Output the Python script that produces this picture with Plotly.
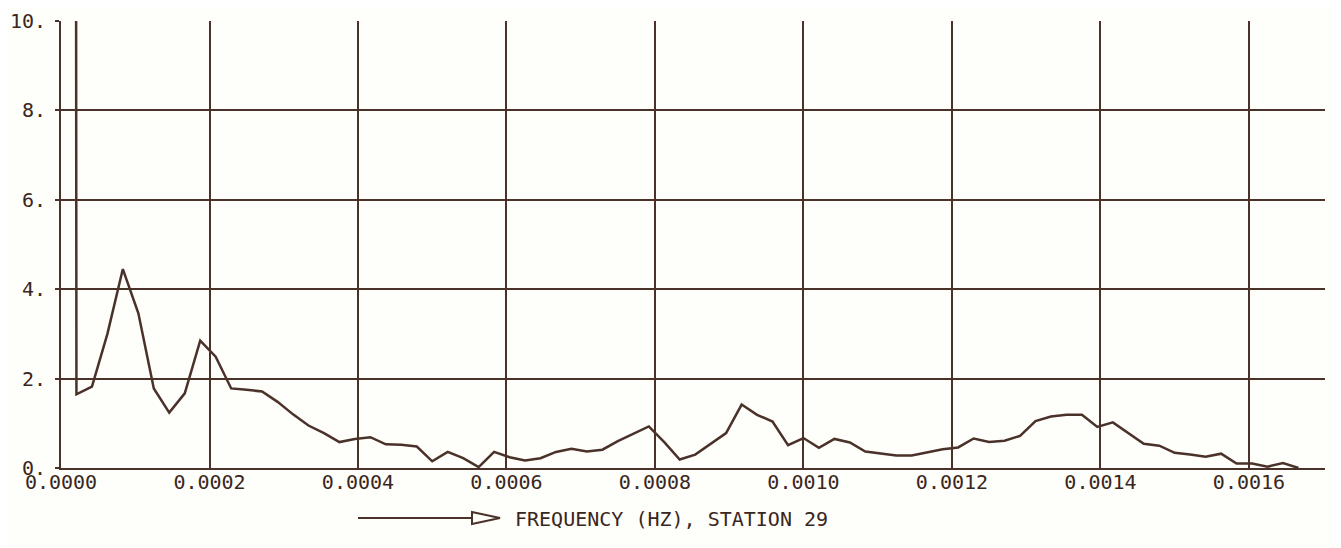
import plotly.graph_objects as go

# frequency (Hz) of each spectral estimate, station 29
freq = [0.0, 0.0000208, 0.0000417, 0.0000625, 0.0000833, 0.0001042, 0.0001250,
        0.0001458, 0.0001667, 0.0001875, 0.0002083, 0.0002292, 0.0002500, 0.0002708,
        0.0002917, 0.0003125, 0.0003333, 0.0003542, 0.0003750, 0.0003958, 0.0004167,
        0.0004375, 0.0004583, 0.0004792, 0.0005000, 0.0005208, 0.0005417, 0.0005625,
        0.0005833, 0.0006042, 0.0006250, 0.0006458, 0.0006667, 0.0006875, 0.0007083,
        0.0007292, 0.0007500, 0.0007708, 0.0007917, 0.0008125, 0.0008333, 0.0008542,
        0.0008750, 0.0008958, 0.0009167, 0.0009375, 0.0009583, 0.0009792, 0.0010000,
        0.0010208, 0.0010417, 0.0010625, 0.0010833, 0.0011042, 0.0011250, 0.0011458,
        0.0011667, 0.0011875, 0.0012083, 0.0012292, 0.0012500, 0.0012708, 0.0012917,
        0.0013125, 0.0013333, 0.0013542, 0.0013750, 0.0013958, 0.0014167, 0.0014375,
        0.0014583, 0.0014792, 0.0015000, 0.0015208, 0.0015417, 0.0015625, 0.0015833,
        0.0016042, 0.0016250, 0.0016458, 0.0016667]

# spectral values (first one is off the scale)
power = [400.0, 1.65, 1.82, 3.0, 4.45, 3.46, 1.78, 1.24, 1.67, 2.85, 2.49,
         1.78, 1.75, 1.71, 1.48, 1.2, 0.95, 0.78, 0.58, 0.65, 0.69,
         0.53, 0.52, 0.48, 0.15, 0.36, 0.22, 0.02, 0.36, 0.24, 0.17,
         0.22, 0.36, 0.43, 0.37, 0.41, 0.60, 0.77, 0.93, 0.58, 0.19,
         0.30, 0.55, 0.78, 1.42, 1.19, 1.04, 0.51, 0.67, 0.45, 0.65,
         0.57, 0.37, 0.32, 0.28, 0.28, 0.35, 0.42, 0.46, 0.66, 0.58,
         0.61, 0.72, 1.05, 1.15, 1.19, 1.19, 0.92, 1.02, 0.78, 0.54,
         0.50, 0.34, 0.30, 0.25, 0.32, 0.10, 0.10, 0.03, 0.11, 0.0]

y_ticks = [0, 2, 4, 6, 8, 10]
y_labels = ['0.', '2.', '4.', '6.', '8.', '10.']
x_ticks = [0.0, 0.0002, 0.0004, 0.0006, 0.0008, 0.0010, 0.0012, 0.0014, 0.0016]
x_labels = ['0.0000', '0.0002', '0.0004', '0.0006', '0.0008', '0.0010',
            '0.0012', '0.0014', '0.0016']
x_title = 'FREQUENCY (HZ), STATION 29'

ink = '#4a3129'
txt = '#3a2620'
font = 'DejaVu Sans Mono'

fig = go.Figure()
fig.add_trace(go.Scatter(x=freq, y=power, mode='lines',
                         line=dict(color=ink, width=2.5), showlegend=False,
                         hoverinfo='skip'))

# page body has an 8px margin, so the figure sits at (8, 8) in the window
OFF = 8
W, H = 1341 - OFF, 548 - OFF
# plot area in window pixels: left 61, right 1325, top 21, bottom 468
L, R, T, B = 61 - OFF, 1325 - OFF, 21 - OFF, 468 - OFF


def px(x):
    return (x - OFF - L) / (R - L)


def py(y):
    return (B - (y - OFF)) / (B - T)


shapes = [
    # arrow shaft and hollow head in front of the axis title
    dict(type='line', xref='paper', yref='paper', x0=px(358), x1=px(472),
         y0=py(518), y1=py(518), line=dict(color=ink, width=2)),
    dict(type='path', xref='paper', yref='paper',
         path='M %f %f L %f %f L %f %f Z' % (px(472), py(512), px(472), py(524),
                                           px(500), py(518)),
         line=dict(color=ink, width=2), fillcolor='rgba(0,0,0,0)'),
    # page edge of the scanned sheet on the right
    dict(type='line', xref='paper', yref='paper', x0=px(1337), x1=px(1337),
         y0=py(548), y1=py(OFF), line=dict(color=ink, width=2)),
]

fig.update_layout(
    width=W, height=H,
    margin=dict(l=L, r=W - R, t=T, b=H - B, autoexpand=False),
    paper_bgcolor='#fefefa', plot_bgcolor='#fefefa',
    font=dict(family=font, size=20, color=txt),
    shapes=shapes,
    annotations=[dict(text=x_title, xref='paper', yref='paper',
                      x=px(513), y=py(519), xanchor='left', yanchor='middle',
                      showarrow=False, font=dict(family=font, size=20, color=txt))],
)
fig.update_xaxes(range=[0, 0.0017024], tickvals=x_ticks, ticktext=x_labels,
                 showgrid=True, gridcolor=ink, gridwidth=2,
                 showline=True, linecolor=ink, linewidth=2, automargin=False,
                 zeroline=False, ticks='', ticklabelstandoff=-5)
fig.update_yaxes(range=[0, 10], tickvals=y_ticks, ticktext=y_labels,
                 showgrid=True, gridcolor=ink, gridwidth=2,
                 showline=True, linecolor=ink, linewidth=2, automargin=False,
                 zeroline=False, ticks='outside', ticklen=4, tickcolor=ink,
                 tickwidth=2, ticklabelstandoff=5)

fig.write_html('out.html')
